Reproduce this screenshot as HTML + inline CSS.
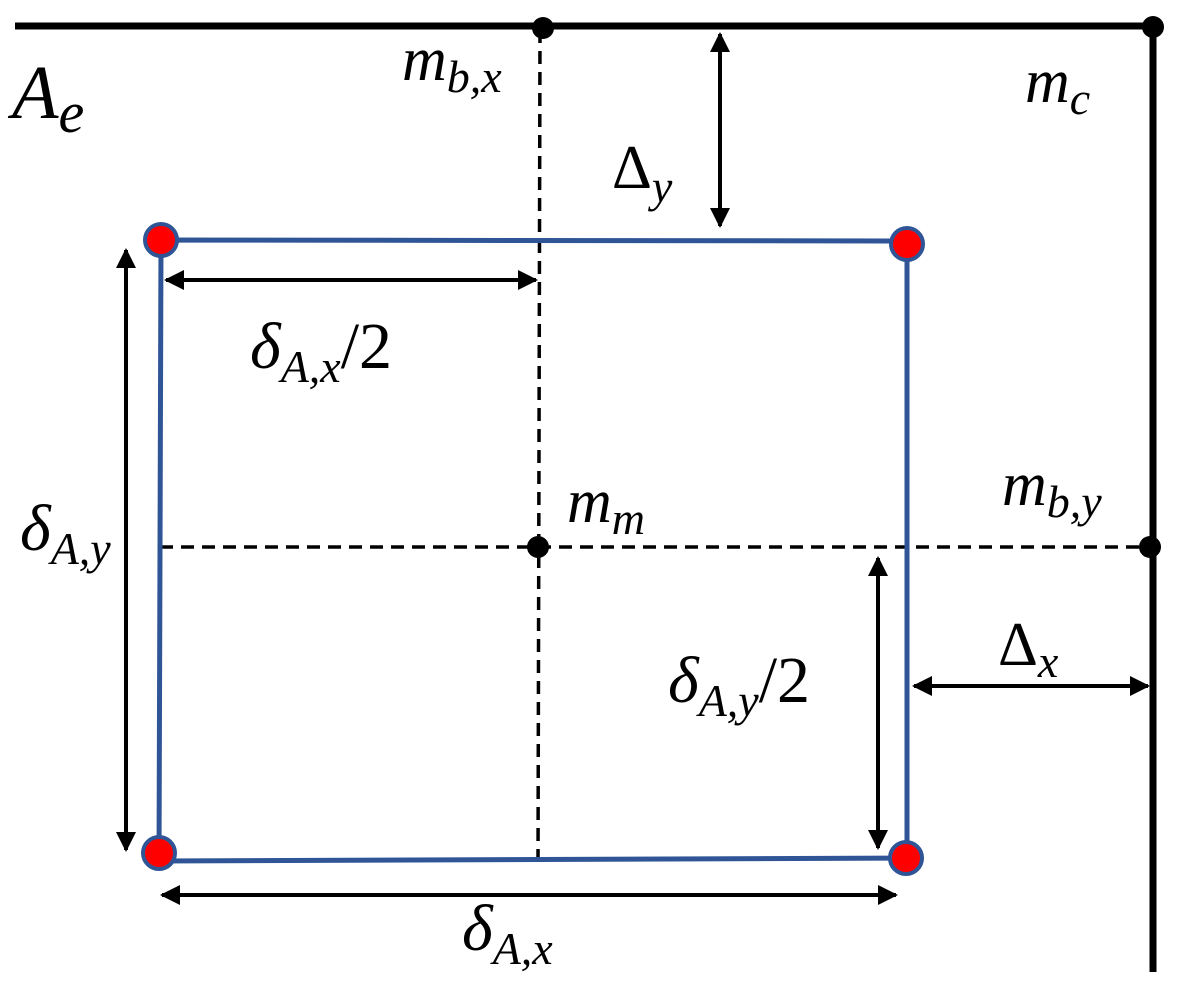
<!DOCTYPE html>
<html><head><meta charset="utf-8"><style>
html,body{margin:0;padding:0;background:#fff}
svg{display:block}
</style></head><body>
<svg width="1179" height="990" viewBox="0 0 1179 990" xmlns="http://www.w3.org/2000/svg" font-family="'Liberation Serif', 'DejaVu Serif', serif" font-style="italic">
<defs>
<marker id="a" viewBox="0 0 10 10" refX="9" refY="5" markerWidth="5" markerHeight="5" orient="auto-start-reverse" markerUnits="strokeWidth">
<path d="M0,0 L10,5 L0,10 z" fill="#000"/></marker>
</defs>
<line x1="15" y1="26" x2="1156" y2="26" stroke="#000" stroke-width="7"/>
<line x1="1153" y1="26" x2="1153" y2="972" stroke="#000" stroke-width="7"/>
<line x1="540" y1="30" x2="538" y2="865" stroke="#000" stroke-width="3.5" stroke-dasharray="13,8"/>
<line x1="160" y1="547" x2="1150" y2="547" stroke="#000" stroke-width="3.5" stroke-dasharray="13,8"/>
<path d="M161,240 L907,241 L907,858 L159,861 Z" fill="none" stroke="#2F5597" stroke-width="5"/>
<g stroke="#000" stroke-width="4" fill="none">
<line x1="720" y1="34" x2="720" y2="226" marker-start="url(#a)" marker-end="url(#a)"/>
<line x1="166" y1="280" x2="536" y2="280" marker-start="url(#a)" marker-end="url(#a)"/>
<line x1="126" y1="250" x2="126" y2="850" marker-start="url(#a)" marker-end="url(#a)"/>
<line x1="878" y1="558" x2="878" y2="848" marker-start="url(#a)" marker-end="url(#a)"/>
<line x1="914" y1="686" x2="1148" y2="686" marker-start="url(#a)" marker-end="url(#a)"/>
<line x1="162" y1="895" x2="896" y2="895" marker-start="url(#a)" marker-end="url(#a)"/>
</g>
<circle cx="543" cy="28" r="11" fill="#000"/>
<circle cx="1153" cy="27" r="11" fill="#000"/>
<circle cx="538" cy="547" r="11" fill="#000"/>
<circle cx="1150" cy="547" r="11" fill="#000"/>
<g fill="#FF0000" stroke="#2F5597" stroke-width="4">
<circle cx="161" cy="240" r="16"/>
<circle cx="907" cy="244" r="16"/>
<circle cx="159" cy="853" r="16"/>
<circle cx="906" cy="858" r="16"/>
</g>
<g fill="#000">
<text x="12" y="118" font-size="76">A<tspan font-size="58" dy="14">e</tspan></text>
<text x="402" y="80" font-size="62">m<tspan font-size="46" dy="12">b,x</tspan></text>
<text x="1025" y="102" font-size="62">m<tspan font-size="46" dy="12">c</tspan></text>
<text x="612" y="188" font-size="62" font-style="normal">Δ<tspan font-size="46" dy="14" font-style="italic">y</tspan></text>
<text x="250" y="368" font-size="66">δ<tspan font-size="46" dy="14">A,x</tspan><tspan dy="-14" font-size="66" font-style="normal">/2</tspan></text>
<text x="20" y="550" font-size="66">δ<tspan font-size="46" dy="14">A,y</tspan></text>
<text x="567" y="522" font-size="62">m<tspan font-size="46" dy="12">m</tspan></text>
<text x="1002" y="505" font-size="62">m<tspan font-size="46" dy="12">b,y</tspan></text>
<text x="998" y="665" font-size="62" font-style="normal">Δ<tspan font-size="46" dy="12" font-style="italic">x</tspan></text>
<text x="668" y="702" font-size="66">δ<tspan font-size="46" dy="14">A,y</tspan><tspan dy="-14" font-size="66" font-style="normal">/2</tspan></text>
<text x="462" y="950" font-size="66">δ<tspan font-size="46" dy="14">A,x</tspan></text>
</g>
</svg>
</body></html>
